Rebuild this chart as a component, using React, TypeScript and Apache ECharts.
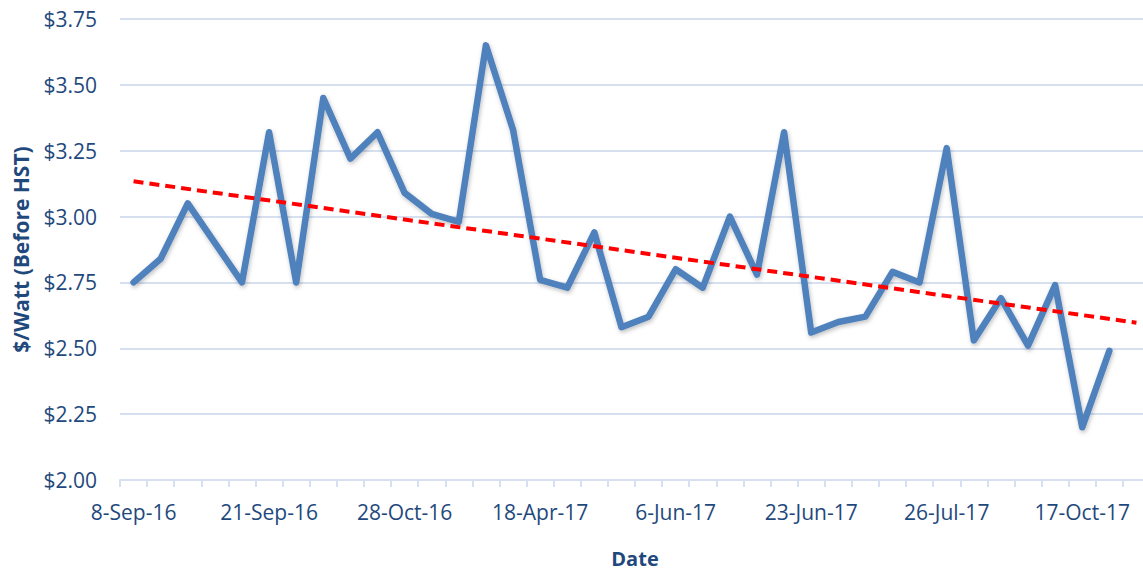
import React, { useEffect, useRef } from "react";
import * as echarts from "echarts";

const categories: string[] = [
  "8-Sep-16", "", "", "", "", "21-Sep-16", "", "", "", "", "28-Oct-16", "", "", "", "",
  "18-Apr-17", "", "", "", "", "6-Jun-17", "", "", "", "", "23-Jun-17", "", "", "", "",
  "26-Jul-17", "", "", "", "", "17-Oct-17", "", "",
];

const prices: number[] = [
  2.75, 2.84, 3.05, 2.90, 2.75, 3.32, 2.75, 3.45, 3.22, 3.32,
  3.09, 3.01, 2.98, 3.65, 3.33, 2.76, 2.73, 2.94, 2.58, 2.62,
  2.80, 2.73, 3.00, 2.78, 3.32, 2.56, 2.60, 2.62, 2.79, 2.75,
  3.26, 2.53, 2.69, 2.51, 2.74, 2.20, 2.49,
];

const trendPoints: [number, number][] = [
  [0, 3.134],
  [37, 2.597],
];

const yTicks = { min: 2.0, max: 3.75, interval: 0.25 };

export default function App() {
  const ref = useRef<HTMLDivElement>(null);
  useEffect(() => {
    document.body.style.margin = "0";
    const chart = echarts.init(ref.current!, null, { renderer: "svg" });
    const textColor = "#1F497D";
    const font = "'Open Sans', sans-serif";
    chart.setOption({
      animation: false,
      grid: {
        left: 120,
        top: 19,
        width: 1030,
        bottom: 91,
        containLabel: false,
        outerBoundsMode: "none",
      },
      xAxis: {
        type: "category",
        data: categories,
        boundaryGap: true,
        name: "Date",
        nameLocation: "middle",
        nameGap: 68,
        nameTextStyle: { color: textColor, fontFamily: font, fontSize: 20, fontWeight: "bold" },
        axisLine: { lineStyle: { color: "#D6E0F0", width: 2 } },
        axisTick: { show: true, interval: 0, length: 7, lineStyle: { color: "#D6E0F0", width: 2 } },
        axisLabel: {
          interval: 4,
          color: textColor,
          fontFamily: font,
          fontSize: 21,
          margin: 21,
          formatter: (v: string) => v,
        },
        splitLine: { show: false },
      },
      yAxis: {
        type: "value",
        min: yTicks.min,
        max: yTicks.max,
        interval: yTicks.interval,
        name: "$/Watt (Before HST)",
        nameLocation: "middle",
        nameGap: 89,
        nameRotate: 90,
        nameTextStyle: { color: textColor, fontFamily: font, fontSize: 21, fontWeight: "bold" },
        axisLine: { show: false },
        axisTick: { show: false },
        axisLabel: {
          color: textColor,
          fontFamily: font,
          fontSize: 21,
          margin: 23,
          formatter: (v: number) => "$" + v.toFixed(2),
        },
        splitLine: { lineStyle: { color: "#D6E0F0", width: 2 } },
      },
      series: [
        {
          type: "line",
          data: prices,
          symbol: "none",
          lineStyle: {
            color: "#4F81BD",
            width: 6.5,
            shadowColor: "rgba(0,0,0,0.25)",
            shadowBlur: 4,
            shadowOffsetX: 1,
            shadowOffsetY: 2,
            join: "round",
            cap: "round",
          },
          z: 2,
        },
        {
          type: "line",
          data: trendPoints,
          symbol: "none",
          lineStyle: { color: "#FF0000", width: 4, type: [10, 6] },
          z: 3,
        },
      ],
    });
    return () => chart.dispose();
  }, []);
  return <div ref={ref} style={{ width: 1143, height: 571 }} />;
}
